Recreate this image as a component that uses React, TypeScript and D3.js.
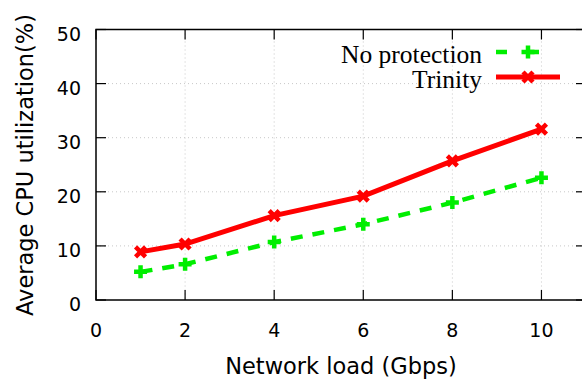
import React, { useEffect, useRef } from 'react';
import * as d3 from 'd3';

// network load in Gbps
const loads = [1, 2, 4, 6, 8, 10];
// average CPU utilization (%)
const noProtection = [5.2, 6.6, 10.7, 14.0, 18.0, 22.6];
const trinity = [8.9, 10.35, 15.6, 19.2, 25.7, 31.6];
const xTicks = [0, 2, 4, 6, 8, 10];
const yTicks = [0, 10, 20, 30, 40, 50];

export default function App() {
  const ref = useRef<SVGSVGElement>(null);

  useEffect(() => {
    const width = 582;
    const height = 382;
    const left = 96, right = 586, top = 29.5, bottom = 300;

    const svg = d3.select(ref.current);
    svg.selectAll('*').remove();
    svg.attr('width', width).attr('height', height).style('background', 'white');

    const x = d3.scaleLinear().domain([0, 11]).range([left, right]);
    const y = d3.scaleLinear().domain([0, 50]).range([bottom, top]);

    const sans = 'DejaVu Sans, sans-serif';

    // grid
    const grid = svg.append('g').attr('stroke', '#c8c8c8').attr('stroke-width', 1).attr('stroke-dasharray', '1,3');
    xTicks.slice(1).forEach(t => {
      grid.append('line').attr('x1', x(t)).attr('x2', x(t)).attr('y1', top).attr('y2', bottom);
    });
    yTicks.slice(1, -1).forEach(t => {
      grid.append('line').attr('x1', left).attr('x2', right).attr('y1', y(t)).attr('y2', y(t));
    });

    // frame and ticks
    svg.append('rect').attr('x', left).attr('y', top).attr('width', right - left).attr('height', bottom - top)
      .attr('fill', 'none').attr('stroke', 'black').attr('stroke-width', 1.5);

    const ticks = svg.append('g').attr('stroke', 'black').attr('stroke-width', 1.2);
    yTicks.forEach(t => {
      ticks.append('line').attr('x1', left).attr('x2', left + 10).attr('y1', y(t)).attr('y2', y(t));
      ticks.append('line').attr('x1', right).attr('x2', right - 10).attr('y1', y(t)).attr('y2', y(t));
    });
    xTicks.forEach(t => {
      ticks.append('line').attr('x1', x(t)).attr('x2', x(t)).attr('y1', bottom).attr('y2', bottom - 10);
      ticks.append('line').attr('x1', x(t)).attr('x2', x(t)).attr('y1', top).attr('y2', top + 10);
    });

    // tick labels
    svg.append('g').selectAll('text').data(yTicks).enter().append('text')
      .attr('x', left - 15).attr('y', d => y(d) + 11)
      .attr('text-anchor', 'end').style('font-family', sans).style('font-size', '19px')
      .text(d => d);
    svg.append('g').selectAll('text').data(xTicks).enter().append('text')
      .attr('x', d => x(d)).attr('y', 337)
      .attr('text-anchor', 'middle').style('font-family', sans).style('font-size', '19px')
      .text(d => d);

    // axis titles
    svg.append('text').attr('x', 341).attr('y', 374).attr('text-anchor', 'middle')
      .style('font-family', sans).style('font-size', '22.5px').text('Network load (Gbps)');
    svg.append('text').attr('transform', `translate(33, ${165}) rotate(-90)`).attr('text-anchor', 'middle')
      .style('font-family', sans).style('font-size', '22.5px').text('Average CPU utilization(%)');

    const line = d3.line<number>().x((_, i) => x(loads[i])).y(d => y(d));

    // no protection
    svg.append('path').datum(noProtection).attr('d', line).attr('fill', 'none')
      .attr('stroke', '#00ee00').attr('stroke-width', 4.5).attr('stroke-dasharray', '12,10');
    const plus = (g: any, cx: number, cy: number) => {
      g.append('path').attr('d', `M${cx - 6.5},${cy}H${cx + 6.5}M${cx},${cy - 6.5}V${cy + 6.5}`)
        .attr('stroke', '#00ee00').attr('stroke-width', 4.5).attr('fill', 'none');
    };
    const gp = svg.append('g');
    noProtection.forEach((v, i) => plus(gp, x(loads[i]), y(v)));

    // trinity
    svg.append('path').datum(trinity).attr('d', line).attr('fill', 'none')
      .attr('stroke', '#ff0000').attr('stroke-width', 5);
    const cross = (g: any, cx: number, cy: number) => {
      const s = 5;
      g.append('path').attr('d', `M${cx - s},${cy - s}L${cx + s},${cy + s}M${cx - s},${cy + s}L${cx + s},${cy - s}`)
        .attr('stroke', '#ff0000').attr('stroke-width', 4.5).attr('fill', 'none');
    };
    const gx = svg.append('g');
    trinity.forEach((v, i) => cross(gx, x(loads[i]), y(v)));

    // legend
    const serif = 'Liberation Serif, serif';
    svg.append('text').attr('x', 482).attr('y', 62.5).attr('text-anchor', 'end')
      .style('font-family', serif).style('font-size', '25.5px').text('No protection');
    svg.append('text').attr('x', 482).attr('y', 87.5).attr('text-anchor', 'end')
      .style('font-family', serif).style('font-size', '25.5px').text('Trinity');
    svg.append('line').attr('x1', 496).attr('x2', 560).attr('y1', 52).attr('y2', 52)
      .attr('stroke', '#00ee00').attr('stroke-width', 4.5).attr('stroke-dasharray', '11,21');
    plus(svg, 528, 52);
    svg.append('line').attr('x1', 496).attr('x2', 560).attr('y1', 77).attr('y2', 77)
      .attr('stroke', '#ff0000').attr('stroke-width', 5);
    cross(svg, 528, 77);
  }, []);

  return <svg ref={ref} style={{ display: 'block', position: 'absolute', left: 0, top: 0 }} />;
}
